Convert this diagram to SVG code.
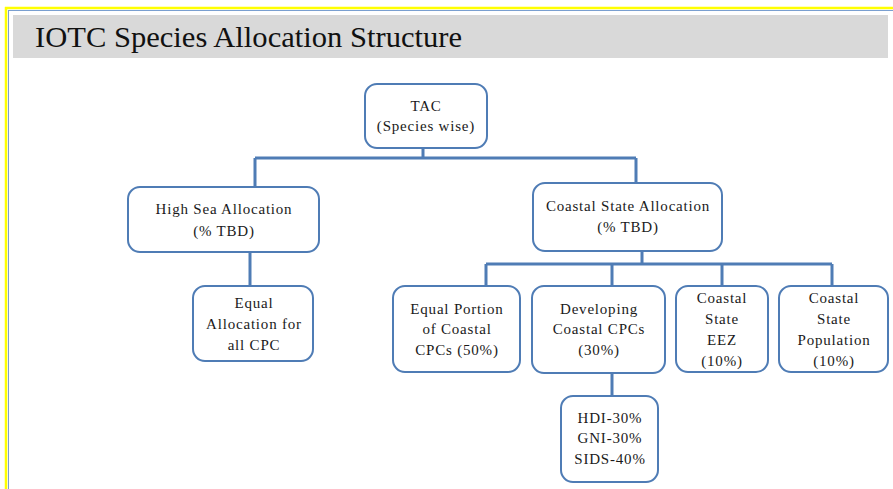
<svg xmlns="http://www.w3.org/2000/svg" width="893" height="489" viewBox="0 0 893 489">
<style>
.box{fill:#fff;stroke:#4f7cb5;stroke-width:2}
.t{font-family:"Liberation Serif","Times New Roman",serif;font-size:15px;letter-spacing:0.8px;fill:#1a1a1a;text-anchor:middle}
.c{fill:none;stroke:#4f7cb5;stroke-width:3}
</style>
<rect x="0" y="0" width="893" height="489" fill="#fff"/>
<line x1="5" y1="8" x2="893" y2="8" stroke="#ffff00" stroke-width="2.5"/>
<line x1="6" y1="7" x2="6" y2="489" stroke="#ffff00" stroke-width="2.5"/>
<line x1="8" y1="10.5" x2="893" y2="10.5" stroke="#7a9fd0" stroke-width="1"/>
<line x1="8.5" y1="10" x2="8.5" y2="489" stroke="#7a9fd0" stroke-width="1"/>
<rect id="header" x="13" y="15" width="875" height="43" fill="#d9d9d9"/>
<text x="35" y="47" font-family="Liberation Serif, Times New Roman, serif" font-size="30" fill="#111" textLength="427" lengthAdjust="spacingAndGlyphs">IOTC Species Allocation Structure</text>
<g id="connectors">
<path class="c" d="M423 148V158M255 158H636M255 158V187M636 158V183"/>
<path class="c" d="M250 252V285"/>
<path class="c" d="M642 251V264M486 264H832M486 264V285M612 264V285M722 264V285M832 264V285"/>
<path class="c" d="M612 373V396"/>
</g>
<g id="tac"><rect class="box" x="365" y="84" width="122" height="64" rx="12"/>
<text class="t" x="426" y="111">TAC</text><text class="t" x="426" y="131">(Species wise)</text></g>
<g id="highsea"><rect class="box" x="128" y="187" width="191" height="65" rx="12"/>
<text class="t" x="224" y="214">High Sea Allocation</text><text class="t" x="224" y="236">(% TBD)</text></g>
<g id="coastal"><rect class="box" x="533" y="183" width="189" height="68" rx="12"/>
<text class="t" x="628" y="211">Coastal State Allocation</text><text class="t" x="628" y="232">(% TBD)</text></g>
<g id="equalalloc"><rect class="box" x="193" y="286" width="120" height="75" rx="12"/>
<text class="t" x="254" y="308">Equal</text><text class="t" x="254" y="329">Allocation for</text><text class="t" x="254" y="350">all CPC</text></g>
<g id="equalportion"><rect class="box" x="393" y="286" width="127" height="86" rx="12"/>
<text class="t" x="457" y="314">Equal Portion</text><text class="t" x="457" y="334">of Coastal</text><text class="t" x="457" y="355">CPCs (50%)</text></g>
<g id="developing"><rect class="box" x="532" y="286" width="133" height="87" rx="12"/>
<text class="t" x="599" y="314">Developing</text><text class="t" x="599" y="334">Coastal CPCs</text><text class="t" x="599" y="355">(30%)</text></g>
<g id="eez"><rect class="box" x="676" y="286" width="92" height="86" rx="12"/>
<text class="t" x="722" y="303">Coastal</text><text class="t" x="722" y="324">State</text><text class="t" x="722" y="345">EEZ</text><text class="t" x="722" y="366">(10%)</text></g>
<g id="population"><rect class="box" x="779" y="286" width="109" height="86" rx="12"/>
<text class="t" x="834" y="303">Coastal</text><text class="t" x="834" y="324">State</text><text class="t" x="834" y="345">Population</text><text class="t" x="834" y="366">(10%)</text></g>
<g id="hdi"><rect class="box" x="561" y="396" width="97" height="86" rx="12"/>
<text class="t" x="610" y="423">HDI-30%</text><text class="t" x="610" y="443">GNI-30%</text><text class="t" x="610" y="464">SIDS-40%</text></g>
</svg>
